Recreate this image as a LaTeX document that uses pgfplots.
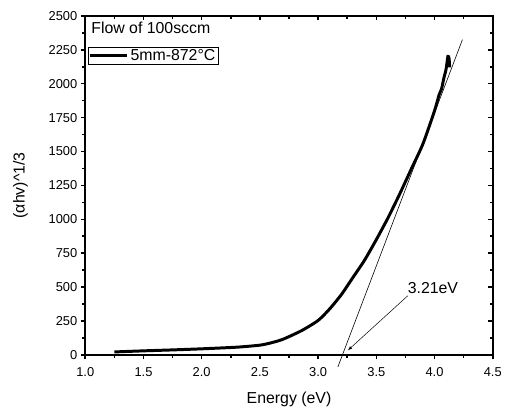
\documentclass[border=0pt]{standalone}
\usepackage{pgfplots}
\pgfplotsset{compat=1.18}
\usepackage{fontspec}
\setmainfont{Liberation Sans}
\begin{document}
\begin{tikzpicture}
\pgfplotsset{
  common/.style={
    scale only axis, width=411pt, height=342pt,
    xmin=1.0, xmax=4.5, ymin=0, ymax=2500,
    xtick={1.0,1.5,...,4.5}, ytick={0,250,...,2500},
    minor x tick num=1, minor y tick num=1,
    axis line style={line width=2.2pt},
    major tick length=4.5pt, minor tick length=3pt,
    every tick/.style={black, line width=1.6pt},
    /pgf/number format/assume math mode=true,
  }
}
\begin{axis}[common,
  tick align=outside, xtick pos=bottom, ytick pos=left,
  xticklabel style={yshift=-5pt, /pgf/number format/.cd, fixed, fixed zerofill, precision=1},
  yticklabel style={/pgf/number format/.cd, 1000 sep={}},
  tick label style={font=\fontsize{13}{15}\selectfont},
  label style={font=\fontsize{16}{18}\selectfont},
  xlabel={Energy (eV)}, ylabel={(αhv)\^{}1/3},
  xlabel style={yshift=-8pt}, ylabel style={yshift=14pt},
  clip=false,
  legend style={at={(0.007,0.909)}, anchor=north west, draw=black, line width=0.6pt,
    inner sep=0.5pt, font=\fontsize{16}{18}\selectfont},
  legend cell align=left,
  legend image code/.code={\draw[line width=3pt] (0pt,0pt) -- (37pt,0pt);},
]
\addplot[black, line width=3pt, smooth, tension=0.4] coordinates {
(1.25,22) (1.5,30) (1.75,37) (2.0,45) (2.3,57) (2.5,72) (2.6,90) (2.7,116) (2.86,180)
(3.0,254) (3.1,340) (3.2,445) (3.3,572) (3.4,700) (3.5,850) (3.6,1010)
(3.7,1185) (3.8,1370) (3.9,1555) (4.0,1800) (4.04,1920) (4.06,1960) (4.08,2040)
(4.10,2110) (4.115,2200) (4.125,2185) (4.13,2120)
};
\addlegendentry{5mm-872°C}
\addplot[black, line width=0.6pt] coordinates {(3.17,-88) (4.24,2325)};
\node[anchor=west, font=\fontsize{16}{18}\selectfont, inner sep=1pt] (lbl) at (axis cs:3.76,490) {3.21eV};
\draw[-latex, line width=0.5pt] (axis cs:3.77,436) -- (axis cs:3.256,34);
\node[anchor=north west, font=\fontsize{16}{18}\selectfont, inner sep=1pt] at (axis description cs:0.012,0.985) {Flow of 100sccm};
\end{axis}
\begin{axis}[common,
  tick align=inside, xtick pos=top, ytick pos=right,
  xticklabels={}, yticklabels={},
]
\end{axis}
\path ([xshift=-86pt,yshift=-52pt]current axis.south west) rectangle ([xshift=8pt,yshift=16pt]current axis.north east);
\end{tikzpicture}
\end{document}
